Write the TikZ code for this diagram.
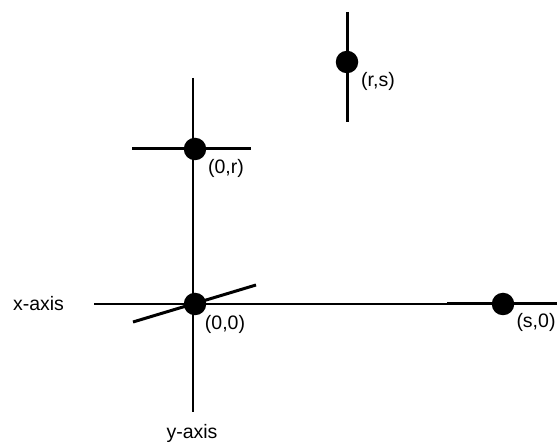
\documentclass[tikz,border=0pt]{standalone}
\usepackage{fontspec}
\setmainfont{Liberation Sans}
\begin{document}
\begin{tikzpicture}[x=1pt,y=-1pt,
  dot/.style={circle,fill=black,inner sep=0pt,minimum size=22.5pt},
  lbl/.style={inner sep=0pt,font=\fontsize{19.5}{22}\selectfont},
  axisline/.style={line width=1.1pt,black},
  thickline/.style={line width=3pt,black}]
\useasboundingbox (0,0) rectangle (557,443);
% axes
\coordinate (vtop) at (193,78);
\coordinate (vbot) at (193,412);
\coordinate (hl) at (94,304);
\coordinate (hr) at (557,304);
\draw[axisline] (vtop) -- (vbot);
\draw[axisline] (hl) -- (hr);
% thick segments
\coordinate (s0a) at (447,304);
\coordinate (s0b) at (557,304);
\draw[thickline] (s0a) -- (s0b);
\coordinate (o1) at (133,322);
\coordinate (o2) at (256,285);
\draw[thickline] (o1) -- (o2);
\coordinate (r1) at (132,149);
\coordinate (r2) at (251,149);
\draw[thickline] (r1) -- (r2);
\coordinate (rs1) at (347,12);
\coordinate (rs2) at (347,122);
\draw[thickline] (rs1) -- (rs2);
% dots
\node[dot] (d00) at (195,304) {};
\node[dot] (d0r) at (195,149) {};
\node[dot] (drs) at (347,62) {};
\node[dot] (ds0) at (503,304) {};
% labels
\node[lbl] (l00) at (225,324) {(0,0)};
\node[lbl] (l0r) at (226,168) {(0,r)};
\node[lbl] (lrs) at (378,81) {(r,s)};
\node[lbl] (ls0) at (536,322) {(s,0)};
\node[lbl] (lx) at (38.5,304) {x-axis};
\node[lbl] (ly) at (192,433) {y-axis};
\end{tikzpicture}
\end{document}
